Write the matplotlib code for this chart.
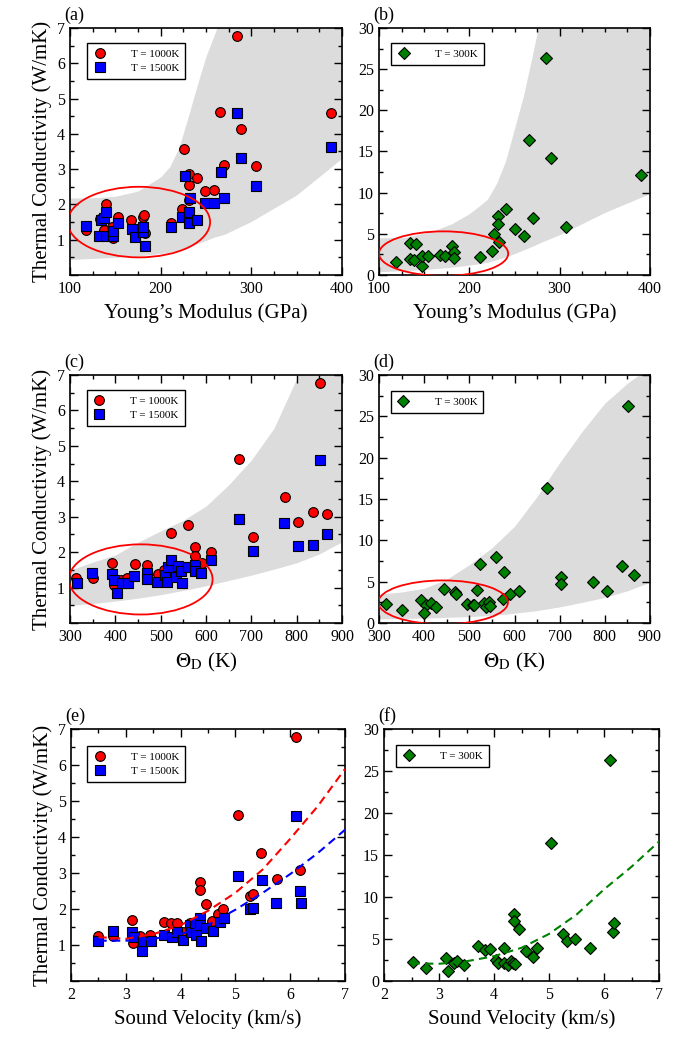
import numpy as np
import matplotlib
matplotlib.use("Agg")
import matplotlib.pyplot as plt
from matplotlib.patches import Ellipse
from matplotlib.ticker import MultipleLocator

plt.rcParams['font.family'] = ['Liberation Serif', 'DejaVu Serif']
plt.rcParams['mathtext.fontset'] = 'stix'

# ---- data ----
# (a)/(b) Young's modulus (GPa)
ym_r = [118, 133, 137, 140, 146, 147, 153, 167, 180, 182, 183, 211, 224, 226, 231, 231, 231,
        240, 249, 259, 265, 270, 284, 289, 305, 388]
k_ym_r = [1.28, 1.60, 1.28, 2.01, 1.37, 1.04, 1.63, 1.55, 1.64, 1.70, 1.18, 1.46, 1.87, 3.56,
          2.87, 2.55, 2.13, 2.75, 2.38, 2.41, 4.62, 3.12, 6.78, 4.15, 3.08, 4.58]
ym_b = [118, 132, 134, 138, 140, 140, 147, 147, 153, 168, 172, 180, 181, 183, 211, 224, 227,
        231, 231, 232, 240, 249, 259, 266, 270, 284, 289, 305, 388]
k_ym_b = [1.40, 1.11, 1.57, 1.61, 1.11, 1.78, 1.10, 1.25, 1.47, 1.29, 1.09, 1.23, 1.37, 0.82,
          1.35, 1.63, 2.80, 1.78, 1.47, 2.17, 1.55, 2.03, 2.03, 2.93, 2.19, 4.59, 3.32, 2.51, 3.64]
ym_g = [119, 134, 134, 139, 141, 148, 148, 154, 168, 173, 181, 183, 183, 212, 225, 227, 232,
        232, 233, 241, 250, 261, 266, 271, 285, 290, 307, 390]
k_ym_g = [1.58, 1.98, 3.85, 1.85, 3.82, 1.12, 2.27, 2.35, 2.40, 2.33, 3.56, 2.80, 2.10, 2.20,
          2.91, 4.95, 7.17, 6.16, 3.98, 7.99, 5.55, 4.74, 16.4, 6.89, 26.4, 14.2, 5.88, 12.1]

# (c)/(d) Debye temperature (K)
td_r = [313, 350, 393, 398, 412, 426, 443, 469, 494, 508, 522, 533, 540, 561, 576, 576, 591,
        611, 672, 704, 774, 804, 837, 852, 867]
k_td_r = [1.26, 1.28, 1.70, 1.06, 1.22, 1.28, 1.66, 1.64, 1.37, 1.49, 2.55, 1.56, 1.60, 2.76,
          2.14, 1.89, 1.70, 2.00, 4.62, 2.43, 3.56, 2.86, 3.12, 6.77, 3.07]
td_b = [315, 349, 393, 397, 404, 415, 427, 442, 469, 469, 493, 510, 513, 517, 523, 533, 539,
        544, 548, 561, 576, 576, 590, 611, 672, 704, 773, 804, 837, 852, 867]
k_td_b = [1.12, 1.42, 1.38, 1.22, 0.86, 1.12, 1.14, 1.32, 1.40, 1.25, 1.15, 1.36, 1.15, 1.57,
          1.77, 1.31, 1.62, 1.48, 1.14, 1.57, 1.65, 1.47, 1.42, 1.78, 2.93, 2.04, 2.81, 2.18,
          2.21, 4.60, 2.52]
td_g = [315, 351, 393, 404, 400, 415, 426, 443, 469, 470, 494, 509, 511, 517, 523, 532, 538,
        543, 546, 560, 575, 577, 590, 610, 671, 703, 703, 773, 804, 837, 852, 865]
k_td_g = [2.27, 1.62, 2.84, 2.15, 1.18, 2.40, 1.92, 4.12, 3.72, 3.55, 2.35, 2.15, 2.20, 3.95,
          7.18, 2.40, 1.95, 2.55, 2.00, 7.94, 2.90, 6.18, 3.50, 3.87, 16.3, 5.54, 4.73, 4.93,
          3.93, 6.86, 26.2, 5.82]

# (e)/(f) sound velocity (km/s)
sv_r = [2.50, 2.76, 3.11, 3.14, 3.26, 3.44, 3.70, 3.82, 3.93, 4.05, 4.17, 4.36, 4.36, 4.46,
        4.58, 4.69, 4.78, 5.04, 5.27, 5.33, 5.47, 5.75, 6.11, 6.18]
k_sv_r = [1.24, 1.25, 1.69, 1.05, 1.25, 1.27, 1.63, 1.62, 1.62, 1.35, 1.60, 2.74, 2.54, 2.14,
          1.67, 1.87, 1.99, 4.61, 2.37, 2.41, 3.55, 2.84, 6.77, 3.08]
sv_b = [2.50, 2.77, 3.12, 3.15, 3.29, 3.31, 3.46, 3.70, 3.84, 3.93, 4.05, 4.17, 4.19, 4.27,
        4.28, 4.36, 4.36, 4.38, 4.46, 4.59, 4.72, 4.79, 5.05, 5.27, 5.33, 5.48, 5.74, 6.11,
        6.18, 6.19]
k_sv_b = [1.10, 1.39, 1.36, 1.23, 0.84, 1.10, 1.11, 1.27, 1.23, 1.36, 1.13, 1.55, 1.35, 1.62,
          1.29, 1.74, 1.55, 1.11, 1.46, 1.39, 1.64, 1.74, 2.92, 2.01, 2.03, 2.81, 2.17, 4.57,
          2.50, 2.18]
sv_g = [2.52, 2.77, 3.12, 3.16, 3.28, 3.33, 3.45, 3.71, 3.83, 3.93, 4.03, 4.07, 4.18, 4.18,
        4.25, 4.30, 4.35, 4.36, 4.36, 4.38, 4.45, 4.59, 4.71, 4.78, 5.04, 5.25, 5.32, 5.47,
        5.75, 6.10, 6.16, 6.18]
k_sv_g = [2.30, 1.59, 2.78, 1.19, 2.19, 2.42, 1.91, 4.17, 3.69, 3.77, 2.50, 2.19, 3.89, 2.19,
          1.91, 2.38, 2.19, 7.99, 7.19, 1.99, 6.16, 3.58, 2.90, 3.89, 16.37, 5.56, 4.81, 4.97,
          3.97, 26.3, 5.88, 6.95]

# dashed trend lines
fit_v = [2.5, 3.0, 3.5, 4.0, 4.5, 5.0, 5.5, 6.0, 6.5, 7.0]
fit_r = [1.22, 1.17, 1.30, 1.55, 1.95, 2.45, 3.10, 3.95, 4.85, 5.89]
fit_b = [1.12, 1.12, 1.17, 1.30, 1.56, 1.98, 2.45, 2.97, 3.55, 4.20]
fit_g = [2.10, 2.05, 2.35, 2.95, 3.95, 5.60, 7.90, 10.9, 13.6, 16.6]

# grey bands
band_ym = [100, 125, 150, 175, 200, 210, 220, 230, 240, 250, 260, 270, 300, 350, 400]
band_a_hi = [2.18, 2.19, 2.23, 2.38, 2.78, 3.07, 3.60, 4.45, 5.35, 6.20, 6.86, 7.60, 10, 15, 20]
band_a_lo = [0.44, 0.47, 0.50, 0.54, 0.61, 0.65, 0.71, 0.79, 0.88, 0.98, 1.08, 1.15, 1.52, 2.27, 3.31]
band_ym_b = [100, 130, 160, 180, 200, 210, 220, 230, 240, 250, 260, 270, 280, 300, 350, 400]
band_b_hi = [4.5, 4.6, 5.35, 6.2, 7.45, 8.3, 9.2, 11.1, 13.8, 17.8, 21.8, 26.8, 32, 40, 50, 60]
band_b_lo = [0.4, 0.55, 0.75, 0.95, 1.2, 1.35, 1.55, 1.85, 2.2, 2.6, 3.05, 3.5, 4.0, 4.9, 7.6, 9.9]
band_td = [300, 350, 400, 450, 500, 550, 600, 650, 700, 750, 800, 850, 900]
band_c_hi = [1.49, 1.72, 1.92, 2.28, 2.6, 2.9, 3.3, 3.9, 4.6, 5.5, 6.9, 8.3, 9.5]
band_c_lo = [0.5, 0.55, 0.62, 0.7, 0.8, 0.92, 1.05, 1.2, 1.35, 1.52, 1.7, 1.95, 2.29]
band_d_hi = [3.5, 3.75, 4.2, 5.3, 7.05, 9.1, 11.7, 15.3, 19.4, 23.2, 26.6, 29.0, 31.0]
band_d_lo = [0.5, 0.55, 0.6, 0.68, 0.78, 0.92, 1.18, 1.5, 1.95, 2.5, 3.1, 3.9, 4.93]

# red ellipses: centre x, centre y, width, height
ell_a = (176, 1.50, 157, 2.0)
ell_b = (171.5, 2.6, 143, 5.4)
ell_c = (456, 1.23, 317, 1.98)
ell_d = (442, 2.5, 287, 5.3)

W, H = 689, 1040
fig = plt.figure(figsize=(W / 100, H / 100), dpi=100)


def make_ax(l, t, r, b):
    return fig.add_axes([l / W, 1 - b / H, (r - l) / W, (b - t) / H])


def style(ax, xlim, xmaj, xmin, ylim, ymaj, ymin, hide_zero):
    ax.set_xlim(*xlim)
    ax.set_ylim(*ylim)
    ax.xaxis.set_major_locator(MultipleLocator(xmaj))
    ax.xaxis.set_minor_locator(MultipleLocator(xmin))
    ax.yaxis.set_major_locator(MultipleLocator(ymaj))
    ax.yaxis.set_minor_locator(MultipleLocator(ymin))
    ax.tick_params(which='both', direction='in', top=True, right=True, labelsize=11.5, width=1)
    ax.tick_params(which='major', length=6)
    ax.tick_params(which='minor', length=3)
    ax.tick_params(axis='x', pad=4.5)
    for s in ax.spines.values():
        s.set_linewidth(1.2)
    if hide_zero:
        ax.yaxis.set_major_formatter(plt.FuncFormatter(lambda v, p: '' if v == 0 else '%d' % v))


def panel_label(ax, s):
    ax.text(-0.02, 1.015, s, transform=ax.transAxes, fontsize=13, ha='left', va='bottom')


def legend(ax, x, y):
    ax.legend(loc='upper left', bbox_to_anchor=(x, y), borderaxespad=0, fontsize=8,
              frameon=True, fancybox=False, edgecolor='black', framealpha=1,
              handlelength=1.2, handletextpad=2.2, labelspacing=0.4, borderpad=0.55)


def band(ax, x, lo, hi):
    ax.fill_between(x, lo, hi, color='#dcdcdc', lw=0, zorder=0)


def ellipse(ax, e):
    ax.add_patch(Ellipse((e[0], e[1]), e[2], e[3], fill=False, edgecolor='red', lw=1.3, zorder=5))


mk = dict(markeredgecolor='black', markeredgewidth=0.8, linestyle='none')
ylab = 'Thermal Conductivity (W/mK)'

# (a)
ax = make_ax(70, 28, 342, 275)
band(ax, band_ym, band_a_lo, band_a_hi)
ax.plot(ym_r, k_ym_r, 'o', color='red', markersize=7, label='T = 1000K', **mk)
ax.plot(ym_b, k_ym_b, 's', color='blue', markersize=6.5, label='T = 1500K', **mk)
ellipse(ax, ell_a)
style(ax, (100, 400), 100, 25, (0, 7), 1, 0.5, True)
ax.set_xlabel('Young’s Modulus (GPa)', fontsize=15)
ax.set_ylabel(ylab, fontsize=15)
legend(ax, 0.062, 0.94)
panel_label(ax, '(a)')

# (b)
ax = make_ax(379, 28, 650, 275)
band(ax, band_ym_b, band_b_lo, band_b_hi)
ax.plot(ym_g, k_ym_g, 'D', color='#008000', markersize=6, label='T = 300K', **mk)
ellipse(ax, ell_b)
style(ax, (100, 400), 100, 25, (0, 30), 5, 2.5, False)
ax.set_xlabel('Young’s Modulus (GPa)', fontsize=15)
legend(ax, 0.044, 0.94)
panel_label(ax, '(b)')

# (c)
ax = make_ax(70, 375, 342, 623)
band(ax, band_td, band_c_lo, band_c_hi)
ax.plot(td_r, k_td_r, 'o', color='red', markersize=7, label='T = 1000K', **mk)
ax.plot(td_b, k_td_b, 's', color='blue', markersize=6.5, label='T = 1500K', **mk)
ellipse(ax, ell_c)
style(ax, (300, 900), 100, 50, (0, 7), 1, 0.5, True)
ax.set_xlabel(r'$\Theta_\mathrm{D}$ (K)', fontsize=15)
ax.set_ylabel(ylab, fontsize=15)
legend(ax, 0.061, 0.94)
panel_label(ax, '(c)')

# (d)
ax = make_ax(379, 375, 650, 623)
band(ax, band_td, band_d_lo, band_d_hi)
ax.plot(td_g, k_td_g, 'D', color='#008000', markersize=6, label='T = 300K', **mk)
ellipse(ax, ell_d)
style(ax, (300, 900), 100, 50, (0, 30), 5, 2.5, False)
ax.set_xlabel(r'$\Theta_\mathrm{D}$ (K)', fontsize=15)
legend(ax, 0.043, 0.937)
panel_label(ax, '(d)')

# (e)
ax = make_ax(71, 729, 345, 981)
ax.plot(sv_r, k_sv_r, 'o', color='red', markersize=7, label='T = 1000K', **mk)
ax.plot(sv_b, k_sv_b, 's', color='blue', markersize=6.5, label='T = 1500K', **mk)
ax.plot(fit_v, fit_r, color='red', lw=1.5, ls=(0, (4, 2.5)), zorder=4)
ax.plot(fit_v, fit_b, color='blue', lw=1.5, ls=(0, (4, 2.5)), zorder=4)
style(ax, (2, 7), 1, 0.5, (0, 7), 1, 0.5, True)
ax.set_xlabel('Sound Velocity (km/s)', fontsize=15)
ax.set_ylabel(ylab, fontsize=15)
legend(ax, 0.058, 0.933)
panel_label(ax, '(e)')

# (f)
ax = make_ax(384, 729, 659, 981)
ax.plot(sv_g, k_sv_g, 'D', color='#008000', markersize=6, label='T = 300K', **mk)
ax.plot(fit_v, fit_g, color='#008000', lw=1.5, ls=(0, (4, 2.5)), zorder=4)
style(ax, (2, 7), 1, 0.5, (0, 30), 5, 2.5, False)
ax.set_xlabel('Sound Velocity (km/s)', fontsize=15)
legend(ax, 0.043, 0.937)
panel_label(ax, '(f)')

fig.savefig('out.png', dpi=100)
